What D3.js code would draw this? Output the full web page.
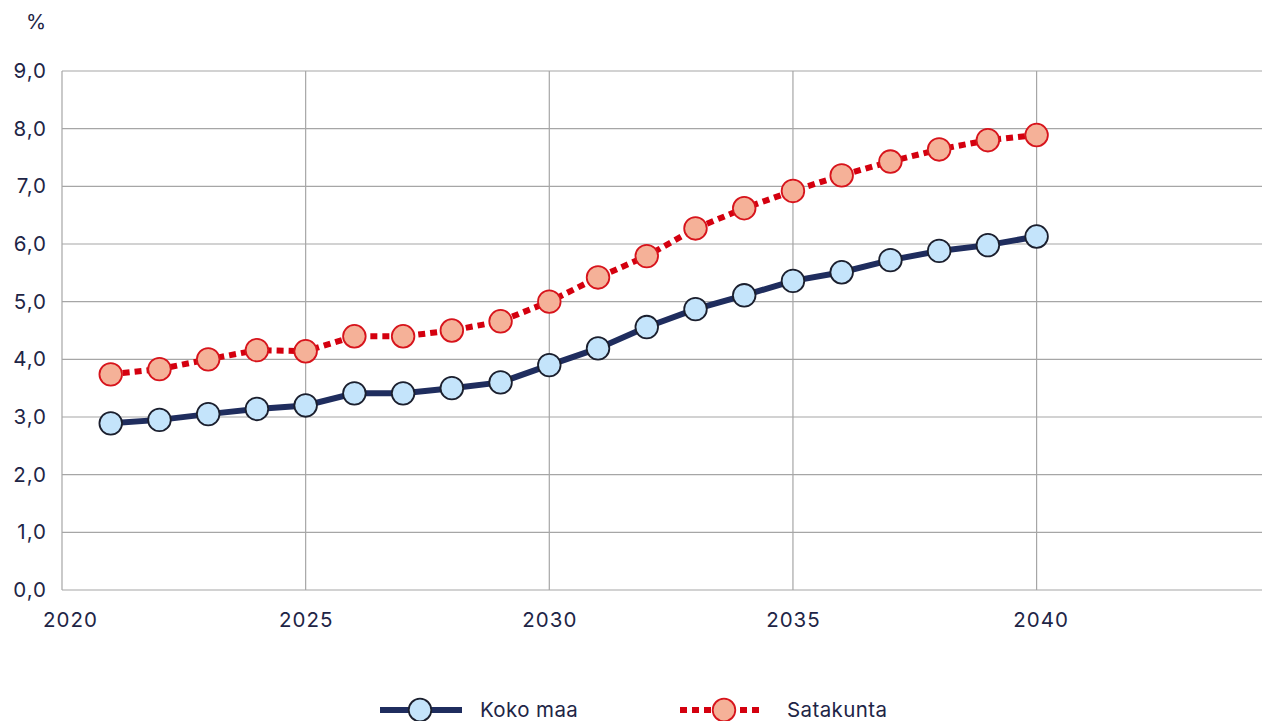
<!DOCTYPE html>
<html>
<head>
<meta charset="utf-8">
<script src="https://cdn.jsdelivr.net/npm/d3@7"></script>
<style>
  html, body { margin: 0; padding: 0; background: #fff; }
  svg { display: block; font-family: Inter, "Noto Sans", sans-serif; }
</style>
</head>
<body>
<svg id="chart" width="1262" height="721"></svg>
<script>
// Years and series values (%)
const years = [2021, 2022, 2023, 2024, 2025, 2026, 2027, 2028, 2029, 2030,
               2031, 2032, 2033, 2034, 2035, 2036, 2037, 2038, 2039, 2040];
const kokoMaa = [2.89, 2.95, 3.05, 3.14, 3.20, 3.41, 3.41, 3.50, 3.60, 3.90,
                 4.19, 4.56, 4.87, 5.11, 5.36, 5.51, 5.72, 5.88, 5.98, 6.13];
const satakunta = [3.74, 3.83, 4.00, 4.16, 4.14, 4.40, 4.40, 4.50, 4.66, 5.00,
                   5.42, 5.79, 6.27, 6.62, 6.92, 7.19, 7.43, 7.64, 7.80, 7.89];
const xTicks = [2020, 2025, 2030, 2035, 2040];
const yTicks = [0, 1, 2, 3, 4, 5, 6, 7, 8, 9];
const seriesNames = ["Koko maa", "Satakunta"];
const unitLabel = "%";

const svg = d3.select("#chart");
const textColor = "#1e2546";
const gridColor = "#a6a6a6";
const fontSize = "20.5px";

const plotLeft = 62, plotTop = 71, plotBottom = 590;
const x = d3.scaleLinear().domain([2020, 2045]).range([plotLeft, plotLeft + 25 * 48.73]);
const y = d3.scaleLinear().domain([0, 9]).range([plotBottom, plotTop]);

// Horizontal gridlines
svg.append("g")
  .selectAll("line")
  .data(yTicks)
  .join("line")
  .attr("x1", plotLeft).attr("x2", 1262)
  .attr("y1", d => y(d)).attr("y2", d => y(d))
  .attr("stroke", gridColor).attr("stroke-width", 1.2);

// Vertical gridlines
svg.append("g")
  .selectAll("line")
  .data(xTicks)
  .join("line")
  .attr("x1", d => x(d)).attr("x2", d => x(d))
  .attr("y1", plotTop).attr("y2", plotBottom)
  .attr("stroke", gridColor).attr("stroke-width", 1.2);

// Y axis labels
const yAxis = d3.axisLeft(y)
  .tickValues(yTicks)
  .tickSize(0)
  .tickPadding(15)
  .tickFormat(d => d3.format(".1f")(d).replace(".", ","));
const gy = svg.append("g").attr("transform", `translate(${plotLeft},0)`).call(yAxis);
gy.select(".domain").remove();
gy.selectAll("text").attr("fill", textColor).style("font-size", fontSize)
  .style("letter-spacing", "1px")
  .attr("font-family", "Inter, 'Noto Sans', sans-serif");

// X axis labels
const xAxis = d3.axisBottom(x)
  .tickValues(xTicks)
  .tickSize(0)
  .tickPadding(22)
  .tickFormat(d3.format("d"));
const gx = svg.append("g").attr("transform", `translate(0,${plotBottom})`).call(xAxis);
gx.select(".domain").remove();
gx.selectAll("text").attr("fill", textColor).style("font-size", fontSize)
  .style("letter-spacing", "1px")
  .attr("font-family", "Inter, 'Noto Sans', sans-serif")
  .attr("dx", (d, i) => i === 0 ? 8 : (i === xTicks.length - 1 ? 4 : 0));

// Unit label
svg.append("text")
  .attr("x", 36).attr("y", 29)
  .attr("text-anchor", "middle")
  .attr("fill", textColor)
  .style("font-size", fontSize)
  .text(unitLabel);

// Series styles
const styles = [
  { values: kokoMaa, line: "#1f2d5e", dash: null, fill: "#c4e4fb", stroke: "#1b1f2e" },
  { values: satakunta, line: "#d4000f", dash: "7,5", fill: "#f5b198", stroke: "#d7141c" }
];

const lineGen = d3.line().x((d, i) => x(years[i])).y(d => y(d));

styles.forEach(s => {
  svg.append("path")
    .datum(s.values)
    .attr("d", lineGen)
    .attr("fill", "none")
    .attr("stroke", s.line)
    .attr("stroke-width", 6)
    .attr("stroke-dasharray", s.dash);
});

styles.forEach(s => {
  svg.append("g")
    .selectAll("circle")
    .data(s.values)
    .join("circle")
    .attr("cx", (d, i) => x(years[i]))
    .attr("cy", d => y(d))
    .attr("r", 11.3)
    .attr("fill", s.fill)
    .attr("stroke", s.stroke)
    .attr("stroke-width", 1.8);
});

// Legend
const legendY = 710;
const legendItems = [
  { x1: 380, x2: 462, cx: 420, tx: 480 },
  { x1: 680, x2: 760, cx: 724, tx: 787 }
];
legendItems.forEach((l, i) => {
  const s = styles[i];
  const g = svg.append("g");
  g.append("line")
    .attr("x1", l.x1).attr("x2", l.x2)
    .attr("y1", legendY).attr("y2", legendY)
    .attr("stroke", s.line).attr("stroke-width", 6)
    .attr("stroke-dasharray", s.dash);
  g.append("circle")
    .attr("cx", l.cx).attr("cy", legendY).attr("r", 11.3)
    .attr("fill", s.fill).attr("stroke", s.stroke).attr("stroke-width", 1.8);
  g.append("text")
    .attr("x", l.tx).attr("y", legendY)
    .attr("dy", "0.35em")
    .attr("fill", textColor)
    .style("font-size", fontSize)
    .style("letter-spacing", "0.4px")
    .text(seriesNames[i]);
});
</script>
</body>
</html>
